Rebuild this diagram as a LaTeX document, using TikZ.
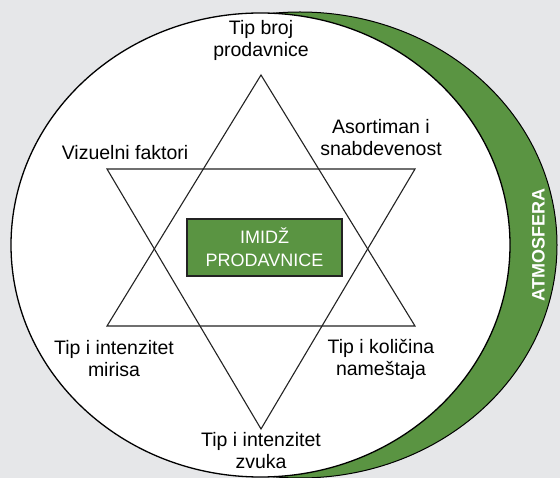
\documentclass[tikz,border=0pt]{standalone}
\usepackage{fontspec}
\setmainfont{Liberation Sans}
\definecolor{bggray}{RGB}{230,231,233}
\definecolor{atmgreen}{RGB}{90,148,66}
\definecolor{linegray}{RGB}{35,35,35}
\begin{document}
\begin{tikzpicture}[x=1pt,y=-1pt,
  lbl/.style={align=center,font=\fontsize{19.5}{22}\selectfont,text=black,inner sep=0pt},
  starline/.style={draw=linegray,line width=1.1pt,line join=miter},
  boxstyle/.style={fill=atmgreen,draw=linegray,line width=1.4pt,minimum width=155pt,minimum height=57pt,align=center,text=white,font=\fontsize{18}{23}\selectfont,inner sep=0pt}]
\useasboundingbox (0,0) rectangle (560,478);
\fill[bggray] (0,0) rectangle (560,478);
% crescent and ellipse
\filldraw[fill=atmgreen,draw=black,line width=1pt] (300,245) ellipse [x radius=257, y radius=233];
\filldraw[fill=white,draw=black,line width=1.3pt] (260.5,245) ellipse [x radius=249.5, y radius=232];
% star
\coordinate (t1) at (261,75);
\coordinate (t2) at (107,326);
\coordinate (t3) at (415,326);
\coordinate (b1) at (107,169);
\coordinate (b2) at (415,169);
\coordinate (b3) at (261,429);
\draw[starline] (t1) -- (t2) -- (t3) -- cycle;
\draw[starline] (b1) -- (b2) -- (b3) -- cycle;
% center box
\node[boxstyle] (img) at (264.5,247.5) {IMIDŽ\\PRODAVNICE};
% labels
\node[lbl] (top) at (261,40) {Tip broj\\prodavnice};
\node[lbl] (ur) at (381,138) {Asortiman i\\snabdevenost};
\node[lbl] (ul) at (125,153) {Vizuelni faktori};
\node[lbl] (ll) at (114,359) {Tip i intenzitet\\mirisa};
\node[lbl] (lr) at (381,359) {Tip i količina\\nameštaja};
\node[lbl] (bot) at (261,451) {Tip i intenzitet\\zvuka};
\node[rotate=90,text=white,font=\bfseries\fontsize{18}{20}\selectfont,inner sep=0pt] (atm) at (538.5,245) {ATMOSFERA};
\end{tikzpicture}
\end{document}
